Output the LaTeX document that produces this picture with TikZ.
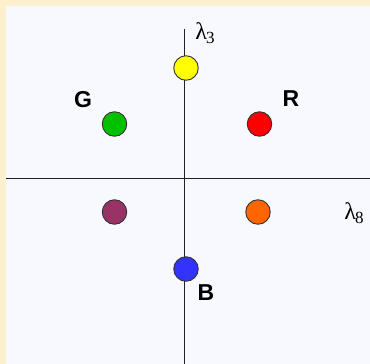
\documentclass[tikz,border=0pt]{standalone}
\usepackage{fontspec}
\newfontfamily\labfont{Liberation Sans}
\newfontfamily\greekfont{Liberation Serif}
\definecolor{beige}{RGB}{253,240,206}
\definecolor{panel}{RGB}{247,249,255}
\definecolor{cyel}{RGB}{255,255,0}
\definecolor{cgrn}{RGB}{0,192,0}
\definecolor{cred}{RGB}{255,0,0}
\definecolor{cpur}{RGB}{153,51,102}
\definecolor{corg}{RGB}{255,102,0}
\definecolor{cblu}{RGB}{51,51,255}
\definecolor{axis}{RGB}{34,34,34}
\newcommand{\lamsub}[1]{{\greekfont\fontsize{24}{24}\selectfont λ\kern-1pt\raisebox{-4pt}{\fontsize{17}{17}\selectfont #1}}}
\begin{document}
\begin{tikzpicture}[x=1pt,y=-1pt,
  dot/.style={circle,draw=black!80,line width=0.9pt,minimum size=24.5pt,inner sep=0pt},
  charge/.style={font=\labfont\bfseries\fontsize{23}{23}\selectfont,inner sep=0pt},
  axlab/.style={inner sep=0pt},
  axisline/.style={draw=axis,line width=1.3pt}]
\fill[beige] (0,0) rectangle (370,364);
\fill[panel] (6,6) rectangle (370,364);
\useasboundingbox (0,0) rectangle (370,364);
% axes
\coordinate (vtop) at (184.5,29);
\coordinate (vbot) at (184.5,364);
\coordinate (hleft) at (6,178.5);
\coordinate (hright) at (370,178.5);
\draw[axisline] (vtop) -- (vbot);
\draw[axisline] (hleft) -- (hright);
% dots
\node[dot,fill=cyel] (y) at (186,68) {};
\node[dot,fill=cgrn] (g) at (114.5,124) {};
\node[dot,fill=cred] (r) at (259.5,124) {};
\node[dot,fill=cpur] (p) at (114.5,212) {};
\node[dot,fill=corg] (o) at (258,212) {};
\node[dot,fill=cblu] (b) at (186,269) {};
% labels
\node[charge] (gl) at (83,100) {G};
\node[charge] (rl) at (291,99) {R};
\node[charge] (bl) at (206,293) {B};
\node[axlab] (l3) at (205,33) {\lamsub{3}};
\node[axlab] (l8) at (354,213) {\lamsub{8}};
\end{tikzpicture}
\end{document}
